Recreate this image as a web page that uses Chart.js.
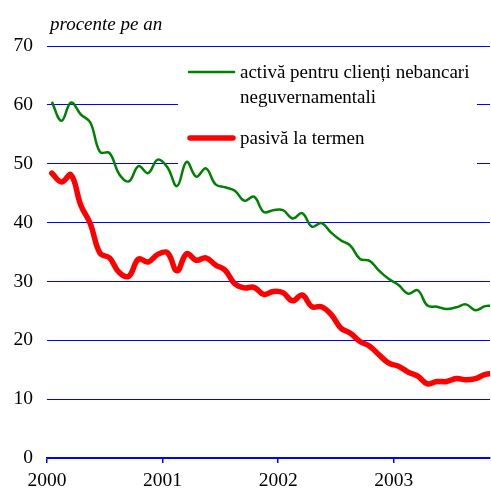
<!DOCTYPE html>
<html>
<head>
<meta charset="utf-8">
<script src="https://cdn.jsdelivr.net/npm/chart.js@4/dist/chart.umd.min.js"></script>
<style>
  body { margin: 0; background: #fff; }
  #wrap { width: 491px; height: 490px; }
</style>
</head>
<body>
<div id="wrap"><canvas id="rates"></canvas></div>
<script>
// monthly values, Jan 2000 onwards
const activa = [60.5, 57.3, 60.4, 58.4, 57.0, 52.0, 51.8, 48.2, 47.0, 49.6, 48.4, 50.7,
  49.4, 46.2, 50.3, 47.8, 49.2, 46.5, 46.0, 45.4, 43.7, 44.4, 41.8, 42.1,
  42.1, 40.7, 41.6, 39.3, 39.9, 38.3, 37.0, 36.1, 33.8, 33.5, 31.8, 30.4,
  29.4, 27.9, 28.5, 25.9, 25.7, 25.3, 25.6, 26.1, 25.1, 25.8, 25.8];
const pasiva = [48.4, 46.9, 48.1, 43.0, 39.8, 34.8, 34.0, 31.5, 30.9, 33.8, 33.3, 34.6,
  34.9, 31.8, 34.7, 33.6, 34.0, 32.8, 31.9, 29.6, 28.9, 29.0, 27.8, 28.3,
  28.1, 26.7, 27.7, 25.7, 25.7, 24.4, 22.1, 21.2, 19.8, 19.0, 17.5, 16.1,
  15.6, 14.6, 13.9, 12.6, 13.0, 13.0, 13.5, 13.3, 13.5, 14.2, 14.4];
const years = [2000, 2001, 2002, 2003];
const yTicks = [0, 10, 20, 30, 40, 50, 60, 70];
const legendLabels = [["activă pentru clienți nebancari", "neguvernamentali"], ["pasivă la termen"]];

const serif = "'Liberation Serif', 'Times New Roman', serif";
const toPoints = arr => arr.map((v, i) => ({ x: i + 0.5, y: v }));

// white legend box over the grid, then the legend itself
const legendBox = {
  id: "legendBox",
  beforeDatasetsDraw(chart) {
    const ctx = chart.ctx;
    ctx.save();
    ctx.fillStyle = "#fff";
    ctx.fillRect(178, 55, 299, 115);
    ctx.restore();
  },
  afterDatasetsDraw(chart) {
    const ctx = chart.ctx;
    ctx.save();
    ctx.lineCap = "round";
    ctx.strokeStyle = "#008000";
    ctx.lineWidth = 2.5;
    ctx.beginPath(); ctx.moveTo(189, 72); ctx.lineTo(234, 72); ctx.stroke();
    ctx.strokeStyle = "#ff0000";
    ctx.lineWidth = 5.5;
    ctx.beginPath(); ctx.moveTo(190, 138); ctx.lineTo(233, 138); ctx.stroke();
    ctx.fillStyle = "#000";
    ctx.font = "19px " + serif;
    ctx.textBaseline = "middle";
    ctx.fillText(legendLabels[0][0], 240, 73);
    ctx.fillText(legendLabels[0][1], 240, 98);
    ctx.fillText(legendLabels[1][0], 240, 139);
    ctx.font = "italic 19px " + serif;
    ctx.fillText("procente pe an", 50, 25);
    ctx.restore();
  }
};

new Chart(document.getElementById("rates").getContext("2d"), {
  type: "line",
  data: {
    datasets: [
      {
        label: legendLabels[0].join(" "),
        data: toPoints(activa),
        borderColor: "#008000",
        borderWidth: 2.5,
        pointRadius: 0,
        tension: 0.4,
        fill: false,
      },
      {
        label: legendLabels[1][0],
        data: toPoints(pasiva),
        borderColor: "#ff0000",
        borderWidth: 5.5,
        pointRadius: 0,
        tension: 0.4,
        borderCapStyle: "round",
        fill: false,
      },
    ],
  },
  options: {
    responsive: true,
    maintainAspectRatio: false,
    animation: false,
    events: [],
    layout: { padding: { top: 46, right: 1, left: 0, bottom: 0 } },
    plugins: { legend: { display: false }, tooltip: { enabled: false } },
    scales: {
      x: {
        type: "linear",
        min: 0,
        max: 46,
        afterBuildTicks: s => { s.ticks = years.map(y => ({ value: (y - years[0]) * 12 })); },
        afterFit: s => { s.height = 32; },
        ticks: {
          callback: v => years[0] + v / 12,
          color: "#000",
          font: { family: serif, size: 19.5 },
          padding: 6,
          maxRotation: 0,
          autoSkip: false,
        },
        grid: { drawOnChartArea: false, color: "#0000ff", tickLength: 5, lineWidth: 1.5 },
        border: { color: "#0000ff", width: 1.5 },
      },
      y: {
        min: 0,
        max: 70,
        afterBuildTicks: s => { s.ticks = yTicks.map(v => ({ value: v })); },
        afterFit: s => { s.width = 47; },
        ticks: {
          color: "#000",
          font: { family: serif, size: 19.5 },
          padding: 14,
        },
        grid: { color: "#0000ff", lineWidth: 1, drawTicks: false },
        border: { display: false },
      },
    },
  },
  plugins: [legendBox],
});
</script>
</body>
</html>
